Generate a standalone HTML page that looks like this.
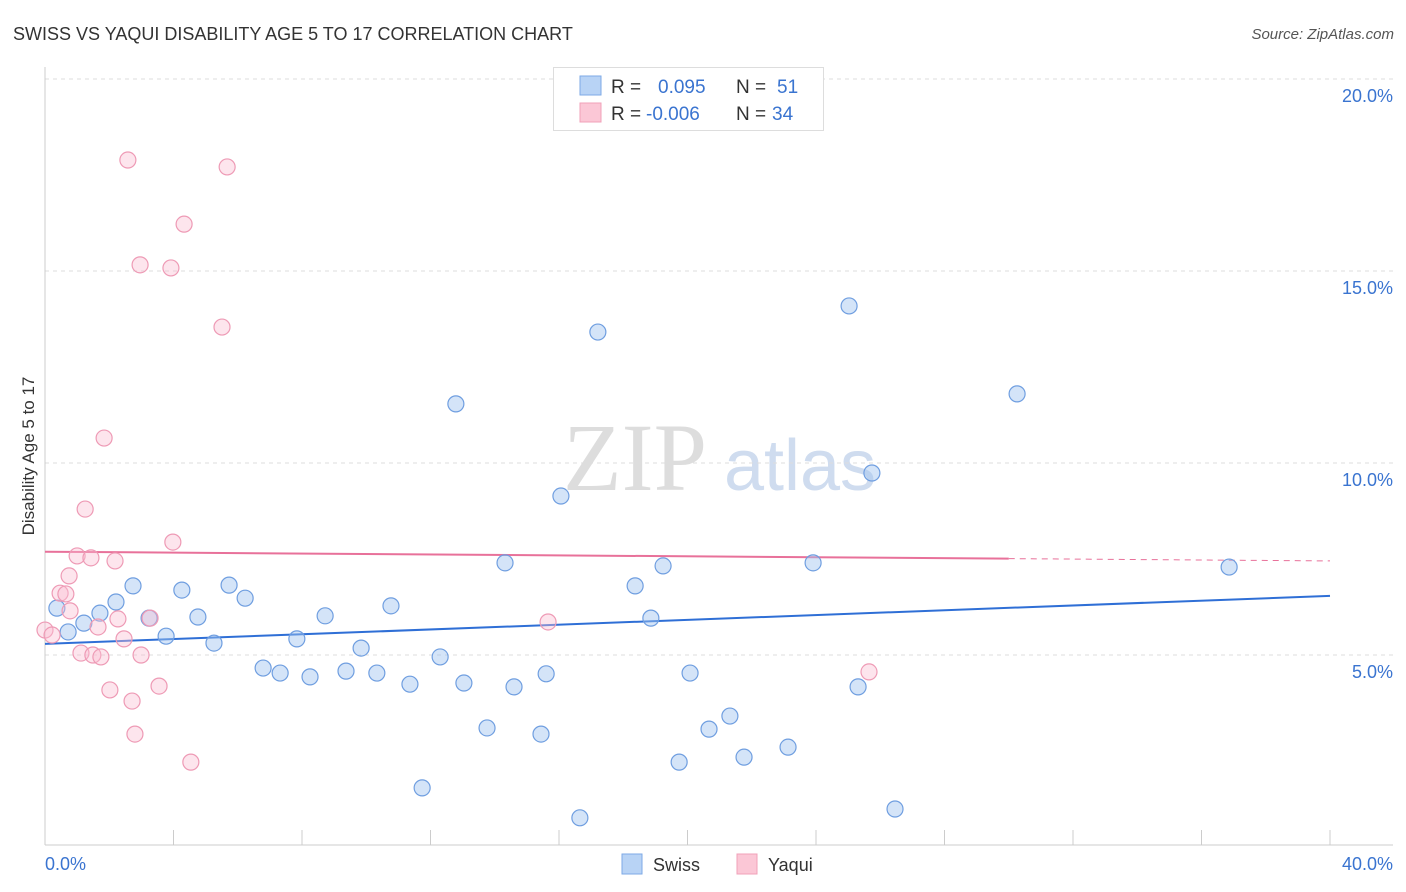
<!DOCTYPE html>
<html><head><meta charset="utf-8"><style>
body{margin:0;background:#fff;font-family:"Liberation Sans",sans-serif}
svg{display:block}
</style></head><body>
<svg id="c" width="1406" height="892" xmlns="http://www.w3.org/2000/svg">
<text x="13" y="40" font-size="18" fill="#333">SWISS VS YAQUI DISABILITY AGE 5 TO 17 CORRELATION CHART</text>
<text x="1394" y="39" font-size="15" fill="#555" font-style="italic" text-anchor="end">Source: ZipAtlas.com</text>
<text transform="translate(34,456) rotate(-90)" font-size="17" fill="#333" text-anchor="middle">Disability Age 5 to 17</text>
<g><text x="635" y="490" font-size="96" font-family="Liberation Serif,serif" fill="#ddd" text-anchor="middle">ZIP</text><text x="800" y="490" font-size="72" fill="#cfdcef" text-anchor="middle">atlas</text></g>
<g id="grid"></g><g id="axes"></g><g id="lines"></g><g id="pts"></g>
<g>
<rect x="553.5" y="67.5" width="270" height="63" fill="#fff" stroke="#ddd"/>
<rect x="580" y="76" width="21" height="19" fill="#b8d3f5" stroke="#7eaae6"/>
<rect x="580" y="103" width="21" height="19" fill="#fbc7d6" stroke="#f0a0b8"/>
<text x="611" y="93" font-size="19" fill="#333">R =</text><text x="658" y="93" font-size="19" fill="#3a74d0">0.095</text>
<text x="736" y="93" font-size="19" fill="#333">N =</text><text x="777" y="93" font-size="19" fill="#3a74d0">51</text>
<text x="611" y="120" font-size="19" fill="#333">R =</text><text x="646" y="120" font-size="19" fill="#3a74d0">-0.006</text>
<text x="736" y="120" font-size="19" fill="#333">N =</text><text x="772" y="120" font-size="19" fill="#3a74d0">34</text>
</g>
<g>
<rect x="622" y="854" width="20" height="20" fill="#b8d3f5" stroke="#7eaae6"/><text x="653" y="871" font-size="18" fill="#333">Swiss</text>
<rect x="737" y="854" width="20" height="20" fill="#fbc7d6" stroke="#f0a0b8"/><text x="768" y="871" font-size="18" fill="#333">Yaqui</text>
</g>
</svg>
<script>
const yTicks=[5,10,15,20];
const swissX=[0.37,0.72,1.21,1.71,2.21,2.74,3.24,3.77,4.26,4.76,5.26,5.73,6.23,6.79,7.32,7.84,8.25,8.72,9.37,9.84,10.33,10.77,11.36,11.74,12.30,12.79,13.04,13.76,14.32,14.60,15.44,15.60,16.06,16.65,17.21,18.37,18.86,19.24,19.74,20.08,20.67,21.32,21.76,23.13,23.91,25.03,25.31,25.74,26.46,30.26,36.86];
const swissY=[6.22,5.60,5.83,6.09,6.38,6.80,5.96,5.49,6.69,5.99,5.31,6.82,6.48,4.66,4.53,5.42,4.43,6.02,4.58,5.18,4.53,6.28,4.24,1.54,4.95,11.54,4.27,3.10,7.40,4.17,2.94,4.51,9.14,0.76,13.41,6.80,5.96,7.32,2.21,4.53,3.07,3.41,2.34,2.60,7.40,14.09,4.17,9.74,0.99,11.80,7.29];
const yaquiX=[0,0.22,0.47,0.65,0.78,0.75,1.0,1.12,1.25,1.43,1.49,1.65,1.74,1.84,2.02,2.18,2.27,2.46,2.58,2.71,2.80,2.96,2.99,3.27,3.55,3.92,3.98,4.33,4.54,5.51,5.67,15.66,25.65];
const yaquiY=[5.65,5.52,6.61,6.59,6.15,7.06,7.58,5.05,8.80,7.53,5.0,5.73,4.95,10.65,4.09,7.45,5.94,5.42,17.89,3.80,2.94,15.16,5.0,5.96,4.19,15.08,7.94,16.22,2.21,13.54,17.71,5.86,4.56];
const swissLine=[5.29,6.54];
const yaquiLine=[7.69,7.51,7.45];
const X=v=>45+v*32.125, Y=v=>847-v*38.4;
const NS='http://www.w3.org/2000/svg';
function mk(p,t,a){const e=document.createElementNS(NS,t);for(const k in a)e.setAttribute(k,a[k]);p.appendChild(e);return e;}
const g=document.getElementById('grid');
yTicks.forEach(t=>{
 const l=mk(g,'line',{x1:45,x2:1393,y1:Y(t),y2:Y(t),stroke:'#ddd','stroke-dasharray':'4,4'});
 
 
 const tx=mk(g,'text',{x:1393,y:Y(t)+23,'font-size':18,fill:'#3a74d0','text-anchor':'end'});tx.textContent=t.toFixed(1)+'%';
 
 
});
const a=document.getElementById('axes');
mk(a,'line',{x1:45,x2:1393,y1:845,y2:845,stroke:'#ccc'});
mk(a,'line',{x1:45,x2:45,y1:67,y2:845,stroke:'#ccc'});
for(let i=0;i<=10;i++){const t=mk(a,'line',{x1:X(i*4),x2:X(i*4),y1:830,y2:845,stroke:'#ccc'});
 
 }
const x0=mk(a,'text',{x:45,y:870,'font-size':18,fill:'#3a74d0'});x0.textContent='0.0%';


const x1=mk(a,'text',{x:1393,y:870,'font-size':18,fill:'#3a74d0','text-anchor':'end'});x1.textContent='40.0%';


const L=document.getElementById('lines');
const bl=mk(L,'line',{x1:X(0),y1:Y(swissLine[0]),x2:X(40),y2:Y(swissLine[1]),stroke:'#2f6fd6','stroke-width':2});


const pl=mk(L,'line',{x1:X(0),y1:Y(yaquiLine[0]),x2:X(30),y2:Y(yaquiLine[1]),stroke:'#e8719a','stroke-width':2});


const pd=mk(L,'line',{x1:X(30),y1:Y(yaquiLine[1]),x2:X(40),y2:Y(yaquiLine[2]),stroke:'#e8719a','stroke-width':1,'stroke-dasharray':'6,5'});


const P=document.getElementById('pts');
swissX.forEach((v,i)=>{const c=mk(P,'circle',{cx:X(v),cy:Y(swissY[i]),r:8,fill:'rgba(160,195,240,0.45)',stroke:'#6f9ee0','stroke-width':1.2});
 
 });
yaquiX.forEach((v,i)=>{const c=mk(P,'circle',{cx:X(v),cy:Y(yaquiY[i]),r:8,fill:'rgba(250,190,210,0.4)',stroke:'#ee9ab5','stroke-width':1.2});
 
 });
</script>
</body></html>
